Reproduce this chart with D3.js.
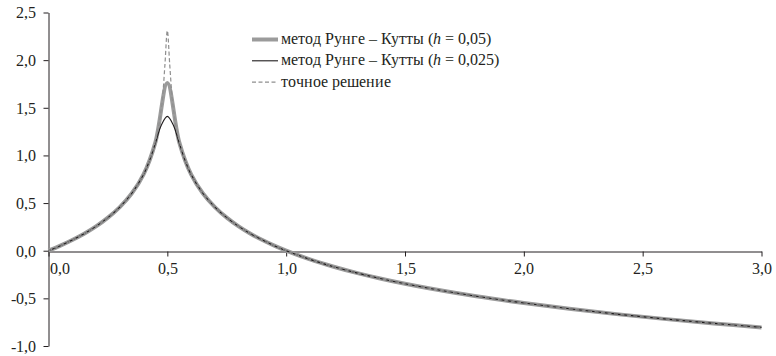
<!DOCTYPE html>
<html>
<head>
<meta charset="utf-8">
<style>
  @font-face { font-family: "ChartSerif"; src: local("Liberation Serif"), local("LiberationSerif"), local("Tinos"), local("DejaVu Serif"); }
  @font-face { font-family: "ChartSerif"; font-style: italic; src: local("Liberation Serif Italic"), local("LiberationSerif-Italic"), local("DejaVu Serif Italic"); }
  body { margin: 0; background: #fff; }
  svg text { font-family: "ChartSerif", "Liberation Serif", "Times New Roman", "DejaVu Serif", serif; }
</style>
<script src="https://cdn.jsdelivr.net/npm/d3@7"></script>
</head>
<body>
<svg id="chart" width="776" height="356"></svg>
<script>
// ---- data ----
const xExact = [0, 0.05, 0.1, 0.15, 0.2, 0.25, 0.3, 0.35, 0.4, 0.425, 0.45, 0.47, 0.48, 0.49, 0.5,
                0.51, 0.52, 0.53, 0.55, 0.575, 0.6, 0.65, 0.7, 0.75, 0.8, 0.85, 0.9, 0.95, 1.0,
                1.1, 1.2, 1.3, 1.4, 1.5, 1.6, 1.8, 2.0, 2.2, 2.4, 2.6, 2.8, 3.0];
const yExact = [0, 0.053, 0.112, 0.178, 0.255, 0.347, 0.458, 0.602, 0.805, 0.949, 1.151, 1.407, 1.609, 1.956, 2.31,
                1.956, 1.609, 1.407, 1.151, 0.949, 0.805, 0.602, 0.458, 0.347, 0.255, 0.178, 0.112, 0.053, 0,
                -0.091, -0.168, -0.235, -0.294, -0.347, -0.394, -0.478, -0.549, -0.612, -0.668, -0.718, -0.763, -0.805];

const xRk05 = [0, 0.05, 0.1, 0.15, 0.2, 0.25, 0.3, 0.35, 0.4, 0.45, 0.5, 0.55, 0.6, 0.65, 0.7, 0.75,
               0.8, 0.85, 0.9, 0.95, 1.0, 1.1, 1.2, 1.3, 1.4, 1.5, 1.6, 1.8, 2.0, 2.2, 2.4, 2.6, 2.8, 3.0];
const yRk05 = [0, 0.053, 0.112, 0.178, 0.255, 0.347, 0.458, 0.60, 0.80, 1.14, 1.76, 1.14, 0.80, 0.60, 0.458, 0.347,
               0.255, 0.178, 0.112, 0.053, 0, -0.091, -0.168, -0.235, -0.294, -0.347, -0.394, -0.478, -0.549,
               -0.612, -0.668, -0.718, -0.763, -0.805];

const xRk025 = [0, 0.05, 0.1, 0.15, 0.2, 0.25, 0.3, 0.35, 0.4, 0.425, 0.45, 0.475, 0.5, 0.525, 0.55, 0.575,
                0.6, 0.65, 0.7, 0.75, 0.8, 0.85, 0.9, 0.95, 1.0, 1.1, 1.2, 1.3, 1.4, 1.5, 1.6, 1.8, 2.0,
                2.2, 2.4, 2.6, 2.8, 3.0];
const yRk025 = [0, 0.053, 0.112, 0.178, 0.255, 0.347, 0.458, 0.60, 0.80, 0.945, 1.13, 1.32, 1.41, 1.32, 1.13, 0.945,
                0.80, 0.60, 0.458, 0.347, 0.255, 0.178, 0.112, 0.053, 0, -0.091, -0.168, -0.235, -0.294, -0.347,
                -0.394, -0.478, -0.549, -0.612, -0.668, -0.718, -0.763, -0.805];

const xTicks = [0, 0.5, 1, 1.5, 2, 2.5, 3];
const yTicks = [-1, -0.5, 0, 0.5, 1, 1.5, 2, 2.5];
const legendLabels = ["метод Рунге – Кутты (", "метод Рунге – Кутты (", "точное решение"];
const legendSteps = ["0,05", "0,025", null];

// ---- layout ----
const ink = "#231f20";
const svg = d3.select("#chart");
const x = d3.scaleLinear().domain([0, 3]).range([48.5, 761.5]);
const y = d3.scaleLinear().domain([-1, 2.5]).range([346, 12.5]);
const fmt = d => d.toFixed(1).replace(".", ",");

// y axis
const yAxis = d3.axisLeft(y).tickValues(yTicks).tickSize(5).tickSizeOuter(0)
  .tickPadding(7.5).tickFormat(fmt);
const gy = svg.append("g").attr("transform", "translate(48.5,0)").call(yAxis)
  .attr("font-family", null).attr("font-size", 16);
gy.select(".domain").attr("stroke", ink);
gy.selectAll(".tick line").attr("stroke", ink);
gy.selectAll(".tick text").attr("fill", ink).attr("dy", "0.34em");

// x axis at y = 0
const y0 = Math.round(y(0)) + 0.5;
const xAxis = d3.axisBottom(x).tickValues(xTicks).tickSize(5).tickSizeOuter(0).tickFormat(fmt);
const gx = svg.append("g").attr("transform", `translate(0,${y0})`).call(xAxis)
  .attr("font-family", null).attr("font-size", 16);
gx.select(".domain").attr("stroke", ink);
gx.selectAll(".tick line").attr("stroke", ink);
gx.selectAll(".tick text").attr("fill", ink)
  .attr("dy", null).attr("y", 22)
  .attr("text-anchor", d => d === 0 ? "start" : "middle")
  .attr("x", d => d === 0 ? 1 : 0);

// ---- lines ----
const lineOf = (xs, ys, curve) => d3.line()
  .x((d, i) => x(xs[i])).y(d => y(d)).curve(curve)(ys);

svg.append("path")
  .attr("d", lineOf(xRk05, yRk05, d3.curveCatmullRom.alpha(0.5)))
  .attr("fill", "none").attr("stroke", "#9b9b9b").attr("stroke-width", 4)
  .attr("stroke-linejoin", "round");

svg.append("path")
  .attr("d", lineOf(xRk025, yRk025, d3.curveCatmullRom.alpha(0.5)))
  .attr("fill", "none").attr("stroke", "#1e1b1c").attr("stroke-width", 1.1);

svg.append("path")
  .attr("d", lineOf(xExact, yExact, d3.curveMonotoneX))
  .attr("fill", "none").attr("stroke", "#8f8f8f").attr("stroke-width", 1.2)
  .attr("stroke-dasharray", "4,2.5");

// ---- legend ----
const legendStyles = [
  {stroke: "#9b9b9b", width: 4, dash: null},
  {stroke: "#1e1b1c", width: 1.1, dash: null},
  {stroke: "#8f8f8f", width: 1.2, dash: "4,2.5"}
];
const legend = svg.append("g").attr("font-size", 16);
legendLabels.forEach((label, i) => {
  const ly = 39.5 + i * 21.3;
  const st = legendStyles[i];
  legend.append("line")
    .attr("x1", 252).attr("x2", 278).attr("y1", ly).attr("y2", ly)
    .attr("stroke", st.stroke).attr("stroke-width", st.width)
    .attr("stroke-dasharray", st.dash);
  const t = legend.append("text").attr("x", 281).attr("y", ly + 4.5).attr("fill", ink);
  t.append("tspan").text(label);
  if (legendSteps[i]) {
    t.append("tspan").attr("font-style", "italic").text("h");
    t.append("tspan").text(" = " + legendSteps[i] + ")");
  }
});
</script>
</body>
</html>
